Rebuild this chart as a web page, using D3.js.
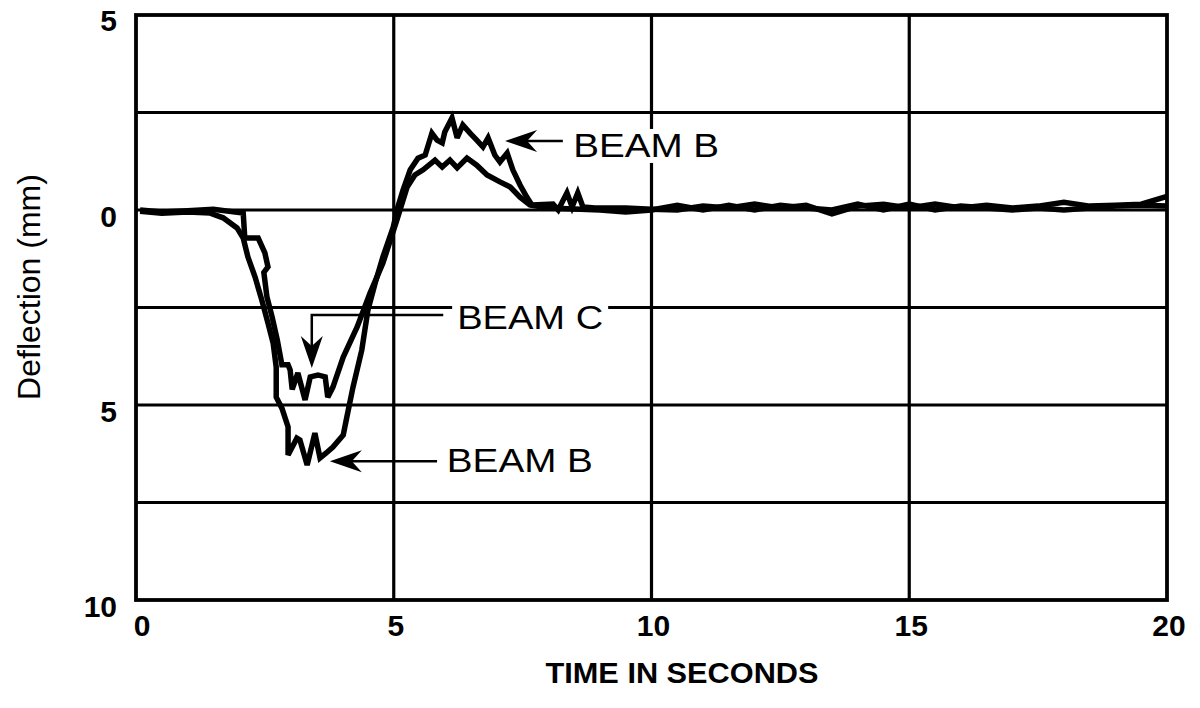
<!DOCTYPE html>
<html>
<head>
<meta charset="utf-8">
<script src="https://cdn.jsdelivr.net/npm/d3@7"></script>
<style>
  html, body { margin: 0; padding: 0; background: #fff; }
  svg { display: block; }
  text { font-family: "Liberation Sans", Arial, Helvetica, sans-serif; fill: #000; }
</style>
</head>
<body>
<svg id="chart" width="1200" height="708"></svg>
<script>
// ---- data (time in s, deflection in mm; up = positive) ----
const beamBTime = [0.08,0.5,1.0,1.44,1.69,1.96,2.08,2.17,2.31,2.44,2.56,2.66,2.72,2.72,2.83,2.95,2.95,3.12,3.18,3.32,3.47,3.57,3.69,3.82,4.02,4.09,4.21,4.38,4.5,4.64,4.79,4.99,5.08,5.18,5.32,5.47,5.61,5.74,5.84,5.94,5.99,6.13,6.23,6.34,6.48,6.61,6.73,6.83,6.96,7.06,7.2,7.31,7.45,7.58,7.68,8.09,8.19,8.36,8.46,8.57,8.67,8.9,9.5,10,10.5,11,11.5,12,12.5,13,13.5,14,14.5,15,15.5,16,16.5,17,17.5,18,18.5,19,19.5,20];
const beamBDefl = [-0.03,-0.08,-0.05,-0.08,-0.2,-0.46,-0.72,-1.2,-1.72,-2.31,-2.9,-3.41,-4.03,-4.8,-5.08,-5.56,-6.28,-5.85,-5.9,-6.54,-5.72,-6.36,-6.23,-6.08,-5.77,-5.31,-4.54,-3.59,-2.56,-1.87,-1.2,-0.44,0.08,0.51,1.03,1.33,1.41,1.97,1.79,1.72,2.0,2.36,1.85,2.18,1.97,1.79,1.62,1.85,1.41,1.23,1.46,1.03,0.64,0.33,0.13,0.15,0.0,0.44,0.08,0.44,0.08,0.05,0.05,0.02,0.0,0.1,0.05,0.15,0.05,0.12,-0.1,0.1,0.15,0.05,0.15,0.05,0.12,0.05,0.1,0.2,0.1,0.12,0.15,0.35];

const beamCTime = [0.08,0.5,1.0,1.5,2.08,2.11,2.37,2.5,2.56,2.48,2.54,2.64,2.74,2.83,2.95,2.99,3.03,3.14,3.28,3.38,3.53,3.67,3.72,3.82,4.02,4.29,4.54,4.79,5.06,5.26,5.41,5.57,5.8,5.94,6.09,6.23,6.42,6.61,6.81,7.06,7.26,7.45,7.64,8.0,9.0,9.5,10,10.5,11,11.5,12,12.5,13,13.5,14,14.5,15,15.5,16,16.5,17,17.5,18,18.5,19,19.5,20];
const beamCDefl = [0.0,-0.05,-0.02,0.02,-0.08,-0.72,-0.72,-1.1,-1.46,-1.6,-2.23,-2.74,-3.33,-3.97,-3.97,-4.1,-4.6,-4.18,-4.87,-4.28,-4.23,-4.28,-4.8,-4.54,-3.77,-3.0,-2.13,-1.36,-0.26,0.59,0.9,1.03,1.28,1.1,1.28,1.08,1.33,1.15,0.9,0.72,0.59,0.33,0.13,0.05,0.0,-0.05,0.0,0.12,0.0,0.12,0.0,0.12,0.05,0.0,0.15,0.0,0.15,0.0,0.1,0.05,0.0,0.05,0.0,0.05,0.1,0.12,0.1];

const xTicks = [0, 5, 10, 15, 20];
const xTickLabels = ["0", "5", "10", "15", "20"];
const yTicks = [5, 0, -5, -10];
const yTickLabels = ["5", "0", "5", "10"];
const xGrid = [5, 10, 15];
const yGrid = [2.5, 0, -2.5, -5, -7.5];

// annotations, in data coordinates
const annoLabels = ["BEAM B", "BEAM C", "BEAM B"];
const annoTextPos = [[8.48, 1.36], [6.23, -3.05], [6.03, -6.72]];
const annoPaths = [
  [[8.28, 1.77], [7.16, 1.77]],
  [[5.96, -2.69], [3.41, -2.69], [3.41, -4.05]],
  [[5.84, -6.44], [3.76, -6.44]]
];

// ---- drawing ----
const svg = d3.select("#chart");
const x = d3.scaleLinear().domain([0, 20]).range([136, 1167]);
const y = d3.scaleLinear().domain([5, -10]).range([15, 600]);

// grid
svg.append("g").selectAll("line").data(xGrid).join("line")
  .attr("x1", d => x(d)).attr("x2", d => x(d))
  .attr("y1", y(5)).attr("y2", y(-10))
  .attr("stroke", "#000").attr("stroke-width", 3.2);
svg.append("g").selectAll("line").data(yGrid).join("line")
  .attr("x1", x(0)).attr("x2", x(20))
  .attr("y1", d => y(d)).attr("y2", d => y(d))
  .attr("stroke", "#000").attr("stroke-width", 3.2);

// frame
svg.append("rect")
  .attr("x", x(0)).attr("y", y(5))
  .attr("width", x(20) - x(0)).attr("height", y(-10) - y(5))
  .attr("fill", "none").attr("stroke", "#000").attr("stroke-width", 3.8);

// tick labels
svg.append("g").selectAll("text").data(xTicks).join("text")
  .attr("x", d => x(d) + (d === 0 ? 6 : 2))
  .attr("y", y(-10) + 36)
  .attr("text-anchor", "middle")
  .attr("font-size", 30).attr("font-weight", "bold")
  .text((d, i) => xTickLabels[i]);
svg.append("g").selectAll("text").data(yTicks).join("text")
  .attr("x", x(0) - 19)
  .attr("y", d => y(d) + (d === 5 ? 5 : 6))
  .attr("dy", "0.35em")
  .attr("text-anchor", "end")
  .attr("font-size", 30).attr("font-weight", "bold")
  .text((d, i) => yTickLabels[i]);

// axis titles
svg.append("text")
  .attr("transform", "translate(40," + 287 + ") rotate(-90)")
  .attr("text-anchor", "middle")
  .attr("font-size", 32)
  .text("Deflection (mm)");
svg.append("text")
  .attr("x", 682).attr("y", 683)
  .attr("text-anchor", "middle")
  .attr("font-size", 29).attr("font-weight", "bold")
  .attr("textLength", 273).attr("lengthAdjust", "spacingAndGlyphs")
  .text("TIME IN SECONDS");

// curves
const line = d3.line().x(d => x(d[0])).y(d => y(d[1]));
const beamB = beamBTime.map((t, i) => [t, beamBDefl[i]]);
const beamC = beamCTime.map((t, i) => [t, beamCDefl[i]]);
[beamB, beamC].forEach(series => {
  svg.append("path").datum(series)
    .attr("d", line)
    .attr("fill", "none").attr("stroke", "#000")
    .attr("stroke-width", 5.5)
    .attr("stroke-linejoin", "miter").attr("stroke-miterlimit", 3);
});

// annotation labels (white backing hides gridline under text)
annoLabels.forEach((lab, i) => {
  const tx = x(annoTextPos[i][0]), ty = y(annoTextPos[i][1]);
  svg.append("rect")
    .attr("x", tx - 5).attr("y", ty - 28)
    .attr("width", 156).attr("height", 34)
    .attr("fill", "#fff");
  svg.append("text")
    .attr("x", tx).attr("y", ty)
    .attr("font-size", 34)
    .attr("textLength", 146).attr("lengthAdjust", "spacingAndGlyphs")
    .text(lab);
});

// leader lines with barbed arrowheads
annoPaths.forEach(pts => {
  const px = pts.map(p => [x(p[0]), y(p[1])]);
  const a = px[px.length - 2], b = px[px.length - 1];
  const dx = b[0] - a[0], dy = b[1] - a[1], L = Math.hypot(dx, dy);
  const ux = dx / L, uy = dy / L, nx = -uy, ny = ux;
  const shaft = px.slice(0, -1).concat([[b[0] - ux * 20, b[1] - uy * 20]]);
  svg.append("path")
    .attr("d", d3.line()(shaft))
    .attr("fill", "none").attr("stroke", "#000").attr("stroke-width", 2.5);
  const len = 32, half = 11, notch = 22;
  const head = [
    [b[0], b[1]],
    [b[0] - ux * len + nx * half, b[1] - uy * len + ny * half],
    [b[0] - ux * notch, b[1] - uy * notch],
    [b[0] - ux * len - nx * half, b[1] - uy * len - ny * half]
  ];
  svg.append("path")
    .attr("d", d3.line()(head) + "Z")
    .attr("fill", "#000");
});
</script>
</body>
</html>
